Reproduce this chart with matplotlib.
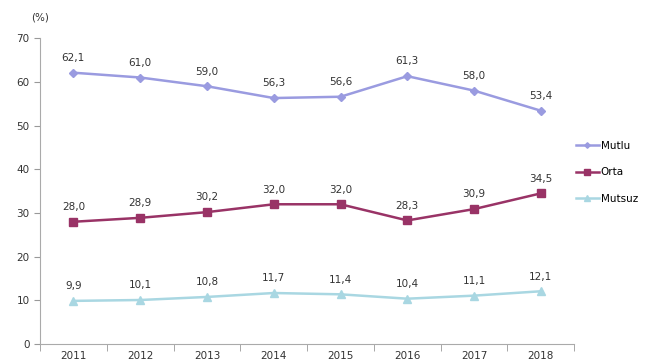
import matplotlib.pyplot as plt
import numpy as np

years = ['2011', '2012', '2013', '2014', '2015', '2016', '2017', '2018']
mutlu = [62.1, 61.0, 59.0, 56.3, 56.6, 61.3, 58.0, 53.4]
orta = [28.0, 28.9, 30.2, 32.0, 32.0, 28.3, 30.9, 34.5]
mutsuz = [9.9, 10.1, 10.8, 11.7, 11.4, 10.4, 11.1, 12.1]

fig = plt.figure(figsize=(6.5, 3.6), dpi=100)
ax = fig.add_axes([0.0615, 0.044, 0.822, 0.85])

x = np.arange(len(years))
series = [
    (mutlu, 'Mutlu', '#9a9be0', 'D', 4),
    (orta, 'Orta', '#993366', 's', 6),
    (mutsuz, 'Mutsuz', '#a9d7e2', '^', 6),
]
for vals, name, col, mk, ms in series:
    ax.plot(x, vals, color=col, marker=mk, markersize=ms, linewidth=1.8, label=name)
    for xi, v in zip(x, vals):
        ax.annotate(f'{v:.1f}'.replace('.', ','), (xi, v), xytext=(0, 7),
                    textcoords='offset points', ha='center', va='bottom',
                    fontsize=7.5, color='#333333')

ax.set_xlim(-0.5, len(years) - 0.5)
ax.set_ylim(0, 70)
ax.set_yticks(range(0, 71, 10))
ax.set_xticks(x)
ax.set_xticklabels(years)
ax.set_xticks(np.arange(-0.5, len(years)), minor=True)
ax.tick_params(axis='x', which='major', length=0, pad=5, labelsize=7.5, colors='#333333')
ax.tick_params(axis='x', which='minor', length=5, color='#999999')
ax.tick_params(axis='y', length=4, color='#999999', labelsize=7.5, labelcolor='#333333')
for s in ['top', 'right']:
    ax.spines[s].set_visible(False)
for s in ['left', 'bottom']:
    ax.spines[s].set_color('#aaaaaa')

ax.text(-0.017, 1.069, '(%)', transform=ax.transAxes, fontsize=7.5,
        color='#333333', ha='left', va='center')

ax.legend(loc='center left', bbox_to_anchor=(0.985, 0.562), frameon=False,
          fontsize=7.5, handlelength=2.2, labelspacing=1.6, handletextpad=0.2,
          markerscale=0.7)

fig.savefig('out.png', dpi=100)
